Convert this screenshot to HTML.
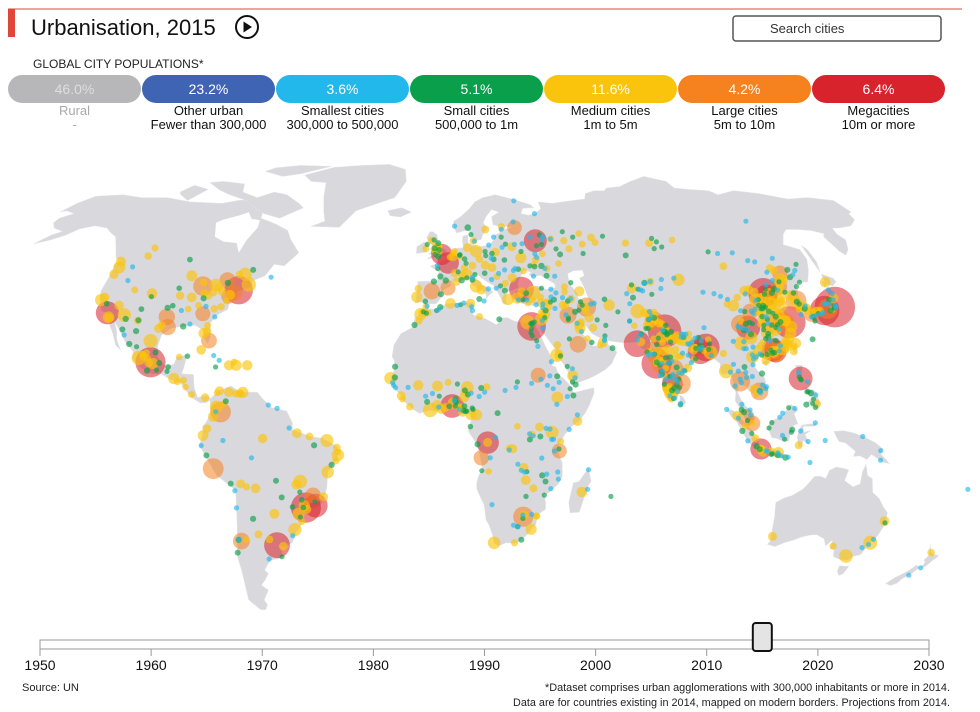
<!DOCTYPE html>
<html><head><meta charset="utf-8"><style>
html,body{margin:0;padding:0;background:#fff;}
body{width:980px;height:712px;overflow:hidden;font-family:"Liberation Sans Narrow","Liberation Sans",sans-serif;}
svg{display:block}
</style></head><body>
<svg id="chart" width="980" height="712" viewBox="0 0 980 712" xmlns="http://www.w3.org/2000/svg" font-family="Liberation Sans Narrow, Liberation Sans, sans-serif">
<line x1="8" y1="9" x2="962" y2="9" stroke="#e0453a" stroke-width="1"/>
<rect x="8" y="9" width="7" height="28" fill="#e0453a"/>
<text x="31" y="35" font-size="22" fill="#111">Urbanisation, 2015</text>
<g>
<circle cx="247" cy="27" r="11" fill="none" stroke="#111" stroke-width="2"/>
<path d="M243.5 21.5 L252 27 L243.5 32.5 Z" fill="#111"/>
</g>
<g>
<rect x="733" y="16" width="208" height="25" rx="3" fill="#fff" stroke="#555" stroke-width="1.5"/>
<text x="770" y="33" font-size="13" fill="#333">Search cities</text>
</g>
<text x="33" y="68" font-size="12" fill="#222">GLOBAL CITY POPULATIONS*</text>
<g id="legend"></g>
<g id="map"></g>
<g id="dots"></g>
<g id="slider"></g>
<text x="22" y="691" font-size="11" fill="#222">Source: UN</text>
<text x="950" y="691" font-size="11" fill="#222" text-anchor="end" textLength="405" lengthAdjust="spacingAndGlyphs">*Dataset comprises urban agglomerations with 300,000 inhabitants or more in 2014.</text>
<text x="950" y="706" font-size="11" fill="#222" text-anchor="end" textLength="437" lengthAdjust="spacingAndGlyphs">Data are for countries existing in 2014, mapped on modern borders. Projections from 2014.</text>
</svg>
<script>
const NS="http://www.w3.org/2000/svg";
// ---- legend data ----
const legendShares=["46.0%","23.2%","3.6%","5.1%","11.6%","4.2%","6.4%"];
const legendNames=["Rural","Other urban","Smallest cities","Small cities","Medium cities","Large cities","Megacities"];
const legendRanges=["-","Fewer than 300,000","300,000 to 500,000","500,000 to 1m","1m to 5m","5m to 10m","10m or more"];
const legendColors=["#b7b6b8","#4064b4","#22b8ec","#0aa04b","#fbc40c","#f5821f","#d8222c"];
// ---- slider data ----
const yearTicks=[1950,1960,1970,1980,1990,2000,2010,2020,2030];
const currentYear=2015;
// ---- city data: [lon, lat, population in millions] ----
const citiesNorthAmerica=[[-74,40.7,18.6],[-118.2,34,12.3],[-87.6,41.9,8.9],[-79.4,43.7,5.9],[-96.8,32.8,6.2],[-95.4,29.8,6.0],[-80.2,25.8,5.8],[-75.2,40,5.6],[-84.4,33.7,5.1],[-77,38.9,5.0],[-71,42.4,4.7],[-122.4,37.8,3.4],[-112,33.4,4.2],[-83,42.3,3.7],[-122.3,47.6,3.3],[-73.6,45.5,4.0],[-93.3,45,2.8],[-117.2,32.7,3.1],[-105,39.7,2.6],[-82.5,28,2.6],[-90.2,38.6,2.2],[-76.6,39.3,2.3],[-123.1,49.3,2.4],[-122.7,45.5,2.0],[-115.1,36.2,2.1],[-81.4,28.5,1.7],[-94.6,39.1,1.6],[-114,51,1.3],[-113.5,53.5,1.2],[-97,49.9,0.78],[-71.2,46.8,0.8],[-75.7,45.4,1.3],[-111.9,40.8,1.1],[-106.6,35.1,0.75],[-106.4,31.8,0.8],[-90,35.1,1.0],[-86.8,36.2,1.1],[-80.8,35.2,1.3],[-81.7,30.3,1.1],[-90.1,30,0.95],[-81.7,41.5,1.7],[-80,40.4,1.7],[-84.5,39.1,1.6],[-86.2,39.8,1.5],[-87.9,43,1.4],[-83,40,1.5],[-78.9,42.9,0.93],[-97.5,35.5,0.9],[-97.7,30.3,1.6],[-98.5,29.4,1.9],[-121.5,38.6,2.0],[-119.8,36.7,0.7],[-111,32.2,0.87],[-96,41.3,0.7],[-78.6,35.8,1.2],[-77.4,37.5,1.0],[-85.8,38.3,0.9],[-157.9,21.3,0.8],[-117.4,47.7,0.4],[-63.6,44.6,0.4],[-116.2,43.6,0.4],[-84,35.9,0.45],[-79.9,32.8,0.4],[-88,30.7,0.35],[-92.3,34.7,0.45],[-95.9,36.1,0.7],[-104.8,38.8,0.5]];
const citiesCentralAmerica=[[-99.1,19.4,21],[-103.3,20.7,4.8],[-100.3,25.7,4.5],[-98.2,19,2.9],[-117,32.5,1.9],[-106.5,31.7,1.4],[-101.7,21.1,1.7],[-99.7,19.3,1.8],[-89.6,21,1.0],[-99.9,16.9,0.9],[-106.1,28.6,0.9],[-107.4,24.8,0.9],[-111,29.1,0.85],[-96.1,19.2,0.8],[-90.5,14.6,2.9],[-89.2,13.7,1.1],[-87.2,14.1,1.1],[-86.3,12.1,1.0],[-84.1,9.9,1.2],[-79.5,9,1.6],[-82.4,23.1,2.1],[-69.9,18.5,2.9],[-72.3,18.5,2.4],[-66.1,18.5,2.5],[-76.8,18,0.6],[-70.7,19.5,1.0],[-86.8,21.2,0.7],[-102.3,21.9,1.0],[-101,22.2,1.1],[-100.4,20.6,1.2],[-96.7,17.1,0.6],[-97.9,22.3,0.8],[-109.9,27.5,0.4],[-104.7,24,0.6],[-93.1,16.7,0.6],[-92.9,18,0.75],[-75.8,20,0.45],[-77.9,21.4,0.35]];
const citiesSouthAmerica=[[-46.6,-23.5,21],[-43.2,-22.9,12.9],[-58.4,-34.6,15.2],[-77,-12,9.9],[-74.1,4.7,9.8],[-70.7,-33.4,6.5],[-43.9,-19.9,5.7],[-66.9,10.5,2.9],[-47.9,-15.8,4.2],[-51.2,-30,4.0],[-34.9,-8,3.7],[-38.5,-3.7,3.9],[-38.5,-13,3.6],[-49.3,-25.4,3.4],[-75.6,6.2,3.9],[-79.9,-2.2,2.7],[-76.5,3.4,2.6],[-47.1,-22.9,3.0],[-49.3,-16.7,2.3],[-48.5,-1.5,2.2],[-60,-3.1,2.0],[-78.5,-0.2,1.7],[-71.6,10.6,2.2],[-68,10.2,1.8],[-74.8,11,1.9],[-56.2,-34.9,1.7],[-57.6,-25.3,2.3],[-68.1,-16.5,1.8],[-63.2,-17.8,2.1],[-64.2,-31.4,1.5],[-60.7,-32.9,1.4],[-68.8,-32.9,1.0],[-40.3,-20.3,1.9],[-46.3,-24,1.8],[-35.2,-5.8,1.4],[-44.3,-2.5,1.4],[-35.7,-9.7,1.2],[-42.8,-5.1,0.9],[-34.9,-7.1,1.0],[-48.5,-27.6,1.1],[-51.2,-23.3,0.7],[-56.1,-15.6,0.8],[-54.6,-20.5,0.8],[-71.5,-16.4,0.85],[-79,-8.1,0.8],[-71.6,-33,0.9],[-73,-36.8,0.8],[-66.2,-17.4,1.2],[-69.3,10.1,1.2],[-67.6,10.2,1.1],[-65.2,-26.8,0.9],[-57.5,-38,0.6],[-73.1,7.1,1.2],[-75.5,10.4,1.0],[-47.8,-21.2,0.7],[-48.3,-18.9,0.6],[-63.9,-8.8,0.4],[-51.1,0,0.45],[-37.1,-10.9,0.9],[-43.4,-21.8,0.55],[-47.5,-23.5,0.7],[-48.8,-26.3,0.6],[-52.3,-31.8,0.35],[-58.2,6.8,0.3],[-55.2,5.8,0.3],[-62.3,-38.7,0.3],[-71.5,-32.9,0.4],[-70.4,-23.6,0.4],[-70.3,-18.5,0.35],[-80.6,-5.2,0.45],[-73.3,-3.7,0.45],[-75.7,4.8,0.4],[-72.5,7.9,0.8]];
const citiesEurope=[[-0.1,51.5,10.3],[2.35,48.9,10.8],[37.6,55.75,12.2],[29,41,14.2],[-3.7,40.4,6.2],[2.2,41.4,5.3],[9.2,45.5,3.1],[12.5,41.9,3.7],[13.4,52.5,3.6],[23.7,38,3.1],[30.3,59.9,5.0],[30.5,50.5,2.9],[14.3,40.9,2.2],[-9.1,38.7,2.9],[-2.2,53.5,2.6],[-1.9,52.5,2.5],[10,53.6,1.8],[16.4,48.2,1.8],[26.1,44.4,1.9],[19,47.5,1.7],[21,52.2,1.7],[27.6,53.9,1.9],[4.35,50.85,2.0],[18,59.3,1.5],[11.6,48.1,1.4],[14.4,50.1,1.3],[12.6,55.7,1.3],[4.9,52.4,1.1],[4.5,51.9,1.0],[4.8,45.8,1.6],[5.4,43.3,1.6],[3.1,50.6,1.0],[1.4,43.6,0.95],[7.3,43.7,0.95],[-0.6,44.8,0.9],[-8.6,41.2,1.3],[-0.4,39.5,0.8],[-6,37.4,0.7],[7,50.9,1.0],[8.7,50.1,0.7],[9.2,48.8,0.6],[6.8,51.2,0.6],[7,51.45,0.6],[7.7,45.1,1.8],[13.4,38.1,0.85],[-4.3,55.9,1.2],[-1.5,53.8,1.9],[-6.3,53.3,1.2],[10.8,59.9,0.99],[24.9,60.2,1.2],[24.1,56.9,0.6],[25.3,54.7,0.5],[23.3,42.7,1.2],[20.5,44.8,1.2],[16,45.8,0.7],[22.9,40.6,0.8],[27.1,38.4,3.0],[32.9,39.9,4.7],[29,40.2,1.9],[30.7,36.9,1.0],[35.3,37,1.8],[32.5,37.9,1.1],[37.4,37.1,1.4],[36.2,50,1.4],[30.7,46.5,1.0],[35,48.5,1.0],[37.8,48,0.95],[44,56.3,1.2],[49.1,55.8,1.2],[50.1,53.2,1.2],[44.5,48.7,1.0],[39.7,47.2,1.1],[39.2,51.7,1.0],[56.2,58,1.0],[56,54.7,1.1],[60.6,56.8,1.4],[61.4,55.2,1.1],[73.4,55,1.2],[82.9,55,1.5],[92.9,56,1.0],[104.3,52.3,0.6],[131.9,43.1,0.6],[135,48.5,0.6],[39,45,0.8],[46,51.5,0.8],[44.8,41.7,1.1],[49.9,40.4,2.4],[44.5,40.2,1.0],[76.9,43.2,1.5],[69.3,41.3,2.3],[74.6,42.9,0.9],[71.4,51.2,0.8],[58.4,38,0.7],[68.8,38.5,0.8],[83.8,53.3,0.6],[65.5,57.2,0.6],[19.9,50,0.76],[19.5,51.8,0.7],[18.6,54.4,0.45],[19,50.3,0.4],[17,51.1,0.6],[16.9,52.4,0.55],[-3,43.3,0.9],[-1.6,47.2,0.6],[-1.7,48.1,0.4],[8.5,47.4,1.2],[6.1,46.2,0.6],[9.2,44.4,0.6],[11.3,43.8,0.75],[11.3,44.5,0.4],[12.3,45.4,0.6],[15.1,37.5,0.3],[16.9,41.1,0.35],[-2.9,53.4,0.9],[-1.5,55,0.8],[-3.2,56,0.5],[-1.1,52.9,0.75],[-2.6,51.5,0.6],[-1.4,50.9,0.9],[-5.9,54.6,0.6],[5.3,60.4,0.4],[11.9,57.7,0.6],[13,55.6,0.3],[21,56.9,0.3],[24.7,59.4,0.4],[28.8,47,0.7],[24,49.8,0.7],[33.4,48,0.6],[35.1,47.8,0.75],[34.1,44.9,0.35],[26.9,46.6,0.3],[27.6,47.2,0.3],[23.6,46.8,0.3],[21.2,45.7,0.3],[21.4,42,0.5],[19.8,41.3,0.4],[18.4,43.9,0.3],[28.9,54.6,0.35],[31,52.4,0.5],[23.8,53.7,0.35],[35.9,56.9,0.4],[40.4,56.1,0.35],[39.9,57.6,0.6],[41,57,0.4],[43.9,56.3,0.3],[45,53.2,0.5],[49.7,58.6,0.5],[53.2,56.9,0.6],[55.1,51.8,0.55],[47.5,42.98,0.6],[42,44.9,0.4],[38.9,47.2,0.3],[36.6,50.6,0.35],[36.2,51.7,0.4],[37.6,54.2,0.5],[39.7,54.6,0.5],[32,54.8,0.35],[30.3,61.8,0.3],[40.5,64.5,0.35],[33,68.9,0.3],[87.1,53.8,0.5],[86.1,55.4,0.55],[85,56.5,0.55],[76.9,43.3,0.3],[69.6,42.3,0.6],[66.9,39.7,0.4],[72.3,40.8,0.4],[73,40.5,0.3],[74.6,42.8,0.3],[71.5,41,0.5],[107.6,51.8,0.4],[113.5,52,0.35],[127.5,50.3,0.35],[129.7,62,0.3]];
const citiesMiddleEast=[[51.4,35.7,8.4],[44.4,33.3,6.6],[46.7,24.7,6.4],[39.2,21.5,4.1],[55.3,25.3,2.4],[48,29.4,2.8],[35.9,32,1.2],[36.3,33.5,2.6],[37.2,36.2,3.5],[35.5,33.9,2.2],[34.8,32.1,3.6],[59.6,36.3,3.0],[51.7,32.6,2.0],[46.3,38.1,1.6],[52.5,29.6,1.6],[48.7,31.3,1.2],[51,35.8,1.9],[50.9,34.6,1.2],[39.8,21.4,1.8],[39.6,24.5,1.3],[50.1,26.4,1.0],[44.2,15.4,2.9],[45,12.8,0.9],[58.4,23.6,0.8],[51.5,25.3,0.7],[54.4,24.5,1.1],[47.8,30.5,2.3],[43.1,36.3,1.6],[44,36.2,1.2],[69.2,34.5,4.6],[62.2,34.3,0.5],[65.7,31.6,0.5],[67.1,36.7,0.4],[56.3,27.2,0.5],[47.1,34.3,0.9],[48.5,34.8,0.55],[57.1,30.3,0.6],[54.4,31.9,0.6],[47.2,30.9,0.3],[44.4,32.5,0.5],[44.3,32,0.6],[43.7,33.4,0.35],[40.1,35.3,0.3],[36.7,34.7,0.8],[35.8,35.5,0.4],[36.1,32.6,0.5],[35.2,31.8,0.35],[35,29.5,0.3],[43.9,26.3,0.5],[40.4,21.3,0.6],[42.5,18.2,0.5],[44.2,17.5,0.3],[44,13.6,0.6],[44.9,14.8,0.45],[48.4,28.5,0.3],[56.1,26.2,0.3],[55.9,25.8,0.3],[53.1,36.6,0.35],[54.4,36.8,0.3],[49.6,37.3,0.6],[45.1,37.5,0.7],[46.3,38.2,0.3],[50,36.3,0.5],[40.2,37.9,0.9],[38.8,37.2,0.5],[39.3,38.7,0.4],[43.4,38.5,0.4],[41.3,39.9,0.4],[36,36.6,0.4],[39.7,41,0.35],[36.3,41.3,0.6],[35.5,38.7,1.1],[27.4,37.8,0.35],[30.5,37.8,0.35],[29.1,37.8,0.5],[30.5,39.8,0.75],[33.6,36.4,0.3]];
const citiesAfrica=[[31.2,30,18.8],[3.4,6.5,13.1],[15.3,-4.3,11.6],[13.2,-8.8,5.5],[32.5,15.6,5.1],[39.3,-6.8,5.1],[28,-26.2,9.4],[-4,5.3,4.8],[29.9,31.2,4.8],[36.8,-1.3,3.9],[38.7,9,3.2],[18.4,-33.9,3.7],[31,-29.9,2.9],[-7.6,33.6,3.5],[3,36.8,2.6],[-0.2,5.6,2.3],[-1.6,6.7,2.6],[-17.4,14.7,3.5],[3.9,7.4,3.2],[8.5,12,3.6],[7.5,9.1,2.4],[9.7,4,2.9],[11.5,3.9,3.0],[32.6,0.3,1.9],[47.5,-18.9,2.6],[-8,12.6,2.5],[-1.5,12.4,2.7],[-13.7,9.5,1.9],[28.3,-15.4,2.2],[31,-17.8,1.5],[32.6,-26,1.2],[45.3,2,2.1],[10.2,36.8,2.0],[13.2,32.9,1.1],[-6.8,34,1.9],[-5,34,1.2],[-8,31.6,1.1],[-5.8,35.8,1.0],[-0.6,35.7,0.9],[28.2,-25.7,2.0],[25.6,-33.9,1.2],[27.5,-11.7,2.0],[23.6,-6.1,2.0],[22.4,-5.9,1.0],[25.2,0.5,1.0],[15.25,-4.25,1.9],[11.9,-4.8,0.9],[9.5,0.4,0.7],[1.2,6.1,1.7],[2.4,6.4,0.7],[2.1,13.5,1.1],[15,12.1,1.3],[-13.2,8.5,1.0],[-10.8,6.3,1.3],[7,4.8,2.3],[5.6,6.3,1.5],[7.4,10.5,1.1],[6.8,6.1,1.1],[7.4,5.1,0.8],[13.2,11.8,0.8],[33.8,-14,0.9],[35,-15.8,0.8],[39.7,-4,1.1],[30.1,-1.9,1.3],[29.4,-3.4,0.8],[32.9,-2.5,0.8],[37.2,19.6,0.4],[38.9,15.3,0.8],[43.1,11.6,0.5],[44.1,9.6,0.8],[-15.9,18.1,0.9],[28.6,-20.2,0.65],[17.1,-22.6,0.35],[15.7,-12.8,1.0],[13.4,-12.6,0.6],[26.2,-29.1,0.5],[33.5,-8.9,0.4],[7.7,11.1,0.8],[4.5,8.5,0.9],[5.2,13,0.5],[-5,7.7,0.8],[-15.9,14.9,0.9],[20.1,32.1,0.8],[31,30.8,0.5],[32.3,31.3,0.6],[32.9,24.1,0.3],[32.6,25.7,0.5],[31.2,27.2,0.5],[30.8,28.1,0.5],[31.1,29.3,0.6],[31.5,30.6,0.5],[31.4,31,0.6],[7.8,36.9,0.4],[6.6,36.4,0.5],[5.4,36.2,0.3],[-1.3,34.9,0.3],[10.6,35.8,0.3],[10.8,34.7,0.3],[-9.6,30.4,0.9],[-6.6,34.3,0.6],[-5.5,33.9,0.6],[-1.9,34.7,0.5],[-5.3,36,0.3],[-16.3,12.6,0.4],[-16.6,13.4,0.4],[-15.6,11.9,0.4],[-11.4,12,0.3],[-5.5,9.4,0.3],[-0.9,9.4,0.6],[-1.1,6.2,0.3],[-3.2,10.2,0.3],[4.5,6.5,0.5],[4.5,7.8,0.5],[4.2,8.1,0.4],[5,7.6,0.5],[5.8,5.5,0.4],[7.9,4.9,0.6],[8.3,5,0.5],[7.5,6.4,0.8],[8.7,9.9,0.8],[9.8,10.3,0.4],[12.5,9.3,0.4],[10.4,5.5,0.5],[10.1,5.9,0.6],[14.3,10.6,0.4],[18.6,4.4,0.8],[25.5,-10.7,0.4],[22.5,-6.5,0.3],[26.7,-12.5,0.3],[27.8,-13,0.4],[28.6,-12.9,0.5],[29.3,-1.7,0.4],[30.5,-2.3,0.3],[37.3,-3.3,0.3],[36.7,-3.4,0.4],[34.8,-0.1,0.4],[36.1,-0.3,0.3],[39.2,-6.2,0.6],[37.7,-6.8,0.3],[39,-13,0.3],[39.3,-15.1,0.4],[35.3,-13.6,0.3],[36.9,-17.9,0.4],[34.8,-19.8,0.5],[32.5,-25.9,1.0],[30.9,-25.5,0.3],[27.8,-25.7,0.3],[27.9,-26.7,0.6],[24.8,-28.7,0.3],[27.9,-33,0.8],[26.5,-29.1,0.35],[17.9,-2.8,0.3],[16.2,-8.8,0.3],[21.2,11.1,0.3],[25.4,13.6,0.5],[24.9,12,0.4],[30.2,13.2,0.4],[33.4,14.4,0.3],[36.4,15.4,0.4],[35.5,12.6,0.3],[39.5,13.5,0.4],[38.5,7,0.3],[42.1,9.3,0.4],[37.4,11.6,0.3],[45.3,3.9,0.3],[42.5,-0.4,0.3],[49.3,-12.3,0.3],[49.4,-18.1,0.3],[57.5,-20.2,0.5]];
const citiesSouthAsia=[[77.2,28.6,25.7],[72.9,19,21],[90.4,23.8,17.6],[67,24.9,16.6],[88.4,22.6,14.9],[77.6,13,10.1],[80.3,13.1,9.9],[74.3,31.5,8.7],[78.5,17.4,8.9],[72.6,23,7.3],[73.9,18.5,5.7],[72.8,21.2,5.6],[75.8,26.9,3.1],[81,26.8,3.2],[80.3,26.4,3.0],[79.1,21.1,2.6],[75.9,22.7,2.2],[85.1,25.6,2.2],[77.4,23.2,2.0],[75.9,30.9,1.7],[78,27.2,1.8],[73.2,22.3,1.9],[73.8,20,1.7],[76.3,10,2.3],[77,11,2.3],[78.1,9.9,1.5],[83.3,17.7,1.9],[83,25.3,1.5],[74.8,34.1,1.4],[74.9,31.6,1.3],[70.8,22.3,1.6],[73.1,31.4,3.3],[73,33.6,2.2],[71.5,30.2,1.9],[68.4,25.4,1.8],[71.5,34,1.9],[67,30.2,1.0],[91.8,22.3,4.5],[89.6,22.8,1.0],[85.3,27.7,1.2],[79.9,6.9,0.7],[77,8.5,1.0],[75.8,11.3,2.1],[76,11,1.7],[76.2,10.5,1.9],[75.4,11.9,1.6],[91.7,26.1,1.0],[81.6,21.3,1.2],[79.9,23.2,1.3],[85.3,23.3,1.2],[86.4,23.8,1.2],[87,23.7,1.3],[80.6,16.5,1.5],[76.6,12.3,1.0],[75.1,15.4,1.0],[81.8,25.4,1.2],[77.7,29,1.5],[73,26.3,1.1],[75.3,19.9,1.2],[75.9,17.7,1.0],[85.8,20.3,1.0],[76.8,30.7,1.1],[78,30.3,0.7],[74.5,32.5,0.8],[74.2,32.2,2.0],[68.9,27.7,0.5],[77.3,11.1,0.9],[78.1,11.7,0.9],[78.7,10.8,1.0],[78.2,26.2,1.1],[89.2,25.7,0.4],[91.9,24.9,0.5],[88.6,24.4,0.9],[79.4,28.4,0.9],[78.1,27.9,0.8],[77.7,27.5,0.6],[77.3,28.4,0.9],[77.0,28.5,0.9],[77.4,28.7,1.6],[76.6,28.9,0.4],[74.6,26.5,0.5],[73.7,24.6,0.5],[75.8,25.2,1.0],[78.6,25.4,0.6],[81,21.2,1.0],[82.2,22.1,0.4],[84,21.5,0.4],[86.2,22.8,1.3],[86.4,20.5,0.6],[84.8,19.3,0.4],[83.4,26.8,0.7],[82.6,26.8,0.4],[84.4,24.8,0.4],[85,24.8,0.4],[86,25.4,0.3],[87.3,26.5,0.3],[88.4,26.7,0.7],[88.3,22.9,0.5],[88.1,23.2,0.3],[86.9,23.5,0.5],[79.4,13.6,0.4],[79.1,12.9,0.5],[79.8,11.9,0.6],[79.1,10.8,0.3],[77.7,8.7,0.5],[78.1,8.8,0.4],[76.5,9.5,0.4],[76.6,8.9,1.1],[74.9,12.9,0.6],[75.6,14.5,0.4],[74.5,15.9,0.5],[73.8,15.5,0.3],[74.2,16.7,0.6],[74.6,16.9,0.4],[73.1,19.2,1.3],[73,19.4,0.8],[72.8,19.5,1.0],[73.9,18.6,0.6],[74.7,19.1,0.3],[76.8,19.1,0.4],[77.3,19.2,0.6],[76.2,20.7,0.6],[77.8,20.9,0.7],[78.2,19.7,0.3],[79.6,17.9,0.8],[80.1,16.3,0.4],[81.8,17,0.4],[81.2,16.2,0.4],[82.2,16.9,0.5],[79.9,14.4,0.5],[78.8,14.5,0.4],[77.6,14.7,0.4],[78,15.8,0.4],[76.9,15.2,0.5],[72.6,21.8,0.5],[70.1,22.5,0.5],[71.1,21.8,0.3],[72.2,21.8,0.4],[70.4,21.5,0.3],[73.8,33.1,0.3],[72.5,32,0.7],[72.7,32.1,0.3],[70.9,29.4,0.5],[71.7,29.4,0.6],[67.3,26,0.3],[68.6,27.5,0.4],[73.4,34.4,0.3],[65.7,31.6,0.3],[80,7.3,0.3],[82.9,27.7,0.3],[83.5,27.7,0.3],[84.4,27.7,0.35],[91.9,21.4,0.4],[91.3,23.2,0.5],[89.1,23.8,0.3]];
const citiesEastAsia=[[139.7,35.7,38],[121.5,31.2,23.7],[116.4,39.9,20.4],[135.5,34.7,20.2],[106.5,29.6,13.3],[113.3,23.1,12.4],[117.2,39.1,11.2],[114.1,22.5,10.7],[127,37.6,9.8],[121,14.6,12.9],[106.8,-6.2,10.3],[100.5,13.75,9.3],[114.3,30.6,7.9],[104.1,30.7,7.8],[113.75,23,7.4],[114.2,22.3,7.3],[106.7,10.8,7.3],[113.1,23,7.0],[118.8,32.1,7.4],[120.2,30.3,6.4],[123.4,41.8,6.3],[108.9,34.3,5.9],[120.6,31.3,5.5],[126.6,45.8,5.5],[101.7,3.1,6.8],[103.8,1.35,5.6],[96.2,16.8,4.8],[105.8,21,3.6],[129,35.1,3.2],[136.9,35.2,9.4],[130.4,33.6,5.5],[141.4,43.1,2.6],[140.9,38.3,2.3],[132.5,34.4,2.2],[130.9,33.9,2.0],[121.5,25,2.7],[120.3,22.6,1.5],[120.7,24.1,1.2],[120.4,36.1,4.5],[121.6,38.9,3.9],[117,36.7,4.4],[113.6,34.7,4.9],[113,28.2,4.6],[102.7,25,4.2],[112.5,37.9,3.7],[125.3,43.9,3.9],[114.5,38,3.7],[117.3,31.8,3.6],[119.3,26.1,3.3],[118.1,24.5,4.3],[108.3,22.8,3.1],[87.6,43.8,3.5],[103.8,36.1,3.1],[106.7,26.6,3.6],[115.9,28.7,2.6],[121.5,29.9,3.4],[120.3,31.6,2.9],[120,31.8,2.5],[118.2,39.6,3.2],[118,36.8,3.2],[117.2,34.3,2.6],[120.7,28,3.0],[116.7,23.4,4.0],[113.4,22.5,3.2],[118.6,24.8,2.0],[110,40.6,2.2],[111.7,40.8,2.0],[113.3,40.1,1.7],[112.5,34.6,2.3],[114.5,36.6,2.0],[119,33.6,2.5],[121.4,37.5,2.3],[126.5,43.8,1.9],[125,46.6,1.6],[124,47.3,1.5],[123,41.1,1.6],[123.9,41.9,1.5],[101.8,36.6,1.2],[106.3,38.5,1.3],[91.1,29.6,0.3],[110.3,20,2.0],[110.4,21.2,1.0],[109.4,24.3,1.5],[110.3,25.3,1.0],[111.3,30.7,1.3],[112.1,32,1.8],[104.7,31.5,1.1],[106.1,30.8,0.9],[106.9,27.7,0.9],[125.8,39,2.9],[126.7,37.5,2.7],[128.6,35.9,2.2],[127.4,36.4,1.6],[126.9,35.2,1.5],[106.9,47.9,1.4],[104.9,11.6,1.7],[102.6,18,0.8],[96.1,22,1.2],[99,18.8,0.3],[108.2,16.1,0.9],[106.7,20.9,1.1],[105.8,10,1.2],[123.9,10.3,0.95],[125.6,7.1,1.6],[122.1,6.9,0.9],[112.75,-7.25,2.9],[107.6,-6.9,2.5],[98.7,3.6,2.2],[104.8,-3,1.5],[110.4,-7,1.6],[119.4,-5.1,1.5],[110.4,-7.8,0.6],[112.6,-8,0.85],[115.2,-8.7,0.95],[101.4,0.5,1.1],[100.4,-0.9,0.9],[116.8,-1.2,0.6],[109.3,0,0.6],[117.1,-0.5,0.8],[124.8,1.5,0.4],[147.2,-9.5,0.35],[103.8,1.5,1.0],[110.3,1.6,0.6],[100.3,5.4,0.8],[133.9,34.7,1.3],[138.4,35,1.2],[130.7,32.8,0.9],[137.7,34.7,0.8],[139.4,35.4,0.6],[140.1,35.6,0.4],[139.6,35.9,0.5],[140.1,36.1,0.4],[138.2,36.6,0.4],[136.6,36.6,0.4],[137.2,36.7,0.4],[139,37.9,0.8],[140.7,40.8,0.3],[141.3,39.7,0.3],[140.4,37.8,0.3],[133.5,33.6,0.3],[132.8,33.8,0.5],[134.6,34.1,0.3],[131.6,33.2,0.4],[129.9,32.8,0.4],[130.6,31.6,0.6],[127.7,26.2,0.8],[129.3,36,0.4],[129.3,35.5,1.0],[128.7,35.2,0.9],[127.1,37.3,0.9],[127.5,36.6,0.7],[126.6,33.5,0.4],[127.4,39.9,0.7],[129.8,41.8,0.6],[124.4,40.1,0.6],[122.2,40.7,0.4],[121.1,41.1,0.9],[119.6,39.9,0.9],[115.5,38.9,1.0],[116.7,39.5,0.5],[115,35.7,0.5],[114.4,36.1,0.8],[113.2,35.2,0.6],[113.9,35.3,0.8],[112.6,32.9,0.7],[114,32.9,0.3],[114.1,32.1,0.6],[115.6,34.4,0.8],[116.8,33.9,0.6],[117.4,32.9,0.8],[118.4,31.3,0.8],[117.0,30.5,0.6],[116.1,29.7,0.5],[117.2,29.3,0.3],[114.9,30.4,0.7],[113.9,30.9,0.3],[112.2,30.3,0.6],[111.7,29.0,0.5],[112.9,27.8,0.8],[112.6,26.9,0.9],[111.6,26.4,0.5],[113.0,25.8,0.4],[114.9,25.8,0.7],[116.1,24.3,0.4],[115.4,22.8,0.3],[114.4,23.1,1.4],[113.6,22.3,0.7],[112.9,22.1,0.7],[112.5,23.0,0.6],[111.0,21.7,0.6],[109.1,21.5,0.5],[108.6,21.9,0.3],[106.6,23.9,0.3],[104.6,28.8,0.6],[105.4,28.9,0.6],[104.8,29.3,0.4],[103.7,29.6,0.4],[103.0,30.0,0.3],[106.1,28.8,0.3],[107.5,31.2,0.5],[108.4,30.8,0.6],[107.1,34.4,0.6],[109.5,34.5,0.3],[105.7,34.6,0.4],[109.9,33.9,0.3],[111.0,35.0,0.3],[112.7,37.7,0.3],[113.6,37.9,0.6],[112.9,36.2,0.5],[109.8,39.6,0.4],[117.9,41.0,0.5],[119.0,42.3,0.4],[122.2,43.6,0.4],[124.4,43.2,0.6],[129.5,44.6,0.9],[130.3,46.8,0.8],[131.1,45.3,0.4],[132.9,46.6,0.3],[122.0,46.1,0.3],[119.8,49.2,0.3],[117.4,49.6,0.3],[81.3,43.9,0.4],[86.1,44.3,0.4],[75.9,39.5,0.5],[79.9,41.2,0.3],[94.7,40.1,0.3],[102.6,38.0,0.3],[100.5,38.9,0.4],[98.5,39.7,0.3],[100.2,25.6,0.4],[103.8,25.5,0.4],[103.4,23.4,0.4],[104.2,23.4,0.3],[97.6,16.5,0.4],[98.6,12.4,0.3],[100.9,13.4,0.4],[100.6,14.4,0.3],[102.8,14.9,0.3],[102.8,16.4,0.4],[104.8,15.2,0.3],[100.3,16.8,0.3],[100.5,7.0,0.4],[103.1,5.3,0.4],[101.1,4.6,0.8],[102.2,2.2,0.5],[103.3,3.8,0.4],[116.1,5.98,0.6],[118.1,5.8,0.3],[114.0,4.4,0.3],[113.0,3.2,0.3],[106.6,10.9,0.4],[107.1,10.4,0.4],[106.8,10.95,0.8],[108.9,11.6,0.3],[109.2,12.2,0.4],[108.0,12.7,0.3],[105.6,18.7,0.4],[106.1,20.4,0.3],[107.1,21.0,0.3],[105.9,21.6,0.3],[120.6,15.1,0.5],[120.9,14.4,0.6],[121.2,14.2,0.5],[120.6,16.4,0.4],[123.2,13.6,0.3],[122.6,10.7,0.5],[123.0,10.7,0.5],[124.6,8.5,0.6],[125.5,9.8,0.3],[125.1,6.1,0.7],[124.2,7.2,0.5],[106.4,-6.3,0.9],[106.6,-6.2,1.8],[106.8,-6.6,1.0],[107.0,-6.2,1.6],[108.6,-6.7,0.3],[109.1,-6.9,0.4],[110.8,-7.6,0.5],[112.6,-7.3,0.4],[113.7,-8.2,0.4],[116.1,-8.6,0.4],[123.6,-10.2,0.3],[105.3,-5.4,0.9],[102.3,-3.8,0.3],[103.6,-1.6,0.5],[99.1,2.9,0.3],[95.3,5.5,0.3],[114.6,-3.3,0.5],[113.9,-2.2,0.3],[122.5,-4.0,0.3],[119.9,-0.9,0.3],[128.2,-3.7,0.3],[140.7,-2.5,0.3],[147.0,-6.7,0.3]];
const citiesOceania=[[151.2,-33.9,4.5],[145,-37.8,4.2],[153,-27.5,2.2],[115.9,-32,1.9],[138.6,-34.9,1.2],[153.4,-28,0.6],[149.1,-35.3,0.4],[174.8,-36.8,1.3],[174.8,-41.3,0.4],[172.6,-43.5,0.4],[151.8,-32.9,0.4],[150.9,-34.4,0.3],[178.4,-18.1,0.3]];

// ---- Robinson projection ----
const robX=[1,.9986,.9954,.99,.9822,.973,.96,.9427,.9216,.8962,.8679,.835,.7986,.7597,.7186,.6732,.6213,.5722,.5322];
const robY=[0,.062,.124,.186,.248,.31,.372,.434,.4958,.5571,.6176,.6769,.7346,.7903,.8435,.8936,.9394,.9761,1];
const R=202, CX=442, CY=428;
function interp(t,lat){const a=Math.min(Math.abs(lat),89.99)/5;const i=Math.floor(a),f=a-i;return t[i]+(t[i+1]-t[i])*f;}
function px(lon,lat){return CX+R*0.8487*interp(robX,lat)*lon*Math.PI/180;}
function py(lon,lat){return CY-Math.sign(lat)*1.3523*R*interp(robY,lat);}

function mk(tag,attrs,parent){const e=document.createElementNS(NS,tag);for(const k in attrs)e.setAttribute(k,attrs[k]);parent.appendChild(e);return e;}

// ---- legend ----
const lg=document.getElementById('legend');
legendShares.forEach((s,i)=>{
  const x=8+i*134;
  const g=mk('g',{},lg);
  
  
  const r=mk('rect',{x:x,y:75,width:133,height:28,rx:14,fill:legendColors[i]},g);
  
  
  const t=mk('text',{x:x+66.5,y:94,'text-anchor':'middle','font-size':14,fill:i===0?'#dedede':'#fff'},g);
  t.textContent=s;
  
  
  const n=mk('text',{x:x+66.5,y:115,'text-anchor':'middle','font-size':13,fill:i===0?'#aaa':'#111'},g);
  n.textContent=legendNames[i];
  
  
  const rg=mk('text',{x:x+66.5,y:129,'text-anchor':'middle','font-size':13,fill:i===0?'#aaa':'#111'},g);
  rg.textContent=legendRanges[i];
  
  
});

// ---- land (rough coastlines, lon/lat) ----
const land=[
 [[-168,65],[-166,68],[-162,70.5],[-150,71],[-140,70],[-128,70],[-115,68.5],[-100,68],[-94,69],[-85,69.5],[-80,67],[-78,63],[-70,61],[-64,59],[-61,56],[-56,52],[-60,48],[-64,48.5],[-66,45],[-70,43.5],[-70,41.7],[-74,40.5],[-76,38],[-76,35],[-79,33.5],[-81,31],[-80,27],[-80.5,25],[-82,26.5],[-83,29],[-86,30.3],[-89,30.2],[-94,29.5],[-97,27.5],[-97.5,24],[-97,21],[-94,18.3],[-91,18.8],[-90.4,21],[-87,21.5],[-87.5,18],[-88,16],[-84,15.8],[-83.4,12],[-82,9],[-79,9.5],[-77.4,8.6],[-79,7.5],[-81,7.4],[-84,9],[-86,11],[-88,13.2],[-92,14.5],[-95,16],[-98,16],[-102,17.7],[-105.5,20.5],[-105.5,22.5],[-109,25.5],[-112.5,29.5],[-114.7,31.5],[-113,29],[-112,26],[-110,23],[-112,24.5],[-114,28],[-115.8,30.3],[-117,32.6],[-118.5,34],[-120.6,34.6],[-122,36.8],[-123,38],[-124,40.5],[-124,46],[-124.7,48.4],[-123,49],[-126,50.5],[-130,54.5],[-133,57],[-137,58.5],[-140,59.8],[-146,60.5],[-151,59.5],[-154,57.5],[-158,56],[-163,54.8],[-160,57.5],[-157,58.7],[-162,59.8],[-165,61.5],[-165,63],[-161,64.5],[-166,65.5]],
 [[-123,71],[-117,69],[-113,73],[-122,74.5],[-125,72]],
 [[-110,76],[-98,75],[-95,72],[-86,70],[-80,72],[-73,71],[-65,68],[-62,66.5],[-70,63],[-78,64.5],[-85,67],[-90,69],[-100,71],[-108,73],[-116,75.5]],
 [[-95,80],[-83,78],[-75,79],[-62,82.5],[-80,83],[-92,81.8]],
 [[-55,60.3],[-43,60],[-38,65.5],[-22,70],[-18,76],[-20,81],[-30,83.5],[-45,83],[-60,82],[-72,78.5],[-66,76],[-58,75.5],[-55,70],[-52,65],[-50,62]],
 [[-24,65.5],[-18,66.5],[-13.5,65],[-18,63.4],[-22.5,63.8]],
 [[-78,8.5],[-75,11],[-71,12.4],[-68,10.7],[-62,10.5],[-60,8.5],[-57,6],[-52,5],[-50,1.5],[-50,-0.5],[-44,-2.5],[-40,-3],[-35,-5.5],[-35,-9],[-38.5,-13],[-39,-17.5],[-40.5,-21.5],[-42,-23],[-45,-23.8],[-48.5,-26],[-48.7,-28.5],[-51,-31],[-53,-34],[-56,-35],[-58,-34.5],[-57,-36.5],[-58,-38.5],[-62,-39],[-65,-42],[-64,-43],[-66,-45],[-68,-46.5],[-66,-48],[-69,-51],[-68.5,-52.5],[-70,-54],[-72,-54],[-75,-51],[-74,-46],[-73.5,-42],[-73.5,-38],[-71.5,-31],[-70.5,-25],[-70,-18.5],[-71.5,-17.2],[-76,-14],[-79.5,-8],[-81.2,-5],[-80,-2],[-80,0.5],[-79,1.5],[-77.5,4],[-77.5,7]],
 [[-9.5,36.8],[-8.8,42],[-9,43.3],[-2,43.4],[-1.3,44.5],[-1.2,46.2],[-4.5,47.9],[-1.6,48.8],[1.7,50],[3,51.2],[5,53.3],[8.5,53.6],[8.2,55.6],[8.5,57.2],[10.5,57.6],[10.5,55],[12.5,54.3],[14.3,53.8],[19,54.4],[21,56.1],[21.5,57.5],[24,58.3],[23.5,59.3],[28,59.5],[29,60.2],[25,60.3],[21.5,60.8],[21.5,63.5],[25,65],[22,65.9],[19,63.5],[17.5,61.5],[18.9,59.7],[16.5,57.5],[16,56.2],[12.8,55.5],[12.6,56.6],[11.2,58.9],[9.4,58.9],[6,58.2],[5,60],[5,62],[8,63.5],[12,66],[15,68.5],[19,70],[25,71],[30,70],[33,69.4],[40,67.5],[41,66.5],[36,66.3],[34.5,64.5],[37.5,64],[41,64.5],[44,66.2],[44,68.5],[50,68],[55,68.5],[60,69],[66,69.5],[68,71.5],[73,72.5],[75,72.5],[78,72.5],[80,73.5],[87,74],[95,76],[100,77],[105,78],[113,76],[113,73.5],[119,73],[128,72.5],[130,71],[140,72.5],[150,71.5],[160,69.5],[170,70],[180,69],[180,65],[178,64.5],[177,62.5],[172,60.5],[166,59.8],[163,59.8],[162,57.8],[163,56],[160,53],[157,51.3],[156,52.5],[155.5,57],[157,58],[153,59],[148,59.3],[143,59.3],[140,57.8],[136,54.5],[141,53],[140.5,50],[138,46.5],[135,43.2],[132,43],[130,42.3],[129.5,40.8],[128.4,38.8],[129.4,36],[129,35],[126.4,34.5],[126.2,37.5],[125,38],[125.3,39.5],[124,39.8],[121.5,39],[121.5,40.8],[119,39.2],[118.2,38.8],[117.5,38.5],[118.8,37.5],[120.5,37.7],[122.5,37.2],[120.8,36],[119.2,34.8],[120.5,33],[121.9,31.7],[121.9,30.8],[122,29.7],[121.4,28],[119.6,25.8],[117.7,24],[114,22.3],[111,21.5],[110,20.3],[108.5,21.6],[106.6,20.2],[105.7,18.7],[107,16.7],[108.8,15.2],[109.3,12],[107.5,10.5],[105,8.7],[104.8,10.2],[103,11],[102.5,12.2],[100.9,12.7],[100,13.4],[99.3,10.6],[100.3,8.3],[101.3,6.8],[103.1,5.4],[103.5,3.9],[104.2,1.4],[103.4,1.3],[101.3,2.8],[100.4,4.8],[98.3,8],[98.7,10.5],[98.2,13.2],[97.6,16.5],[95.2,15.8],[94.3,16.4],[94.5,19],[92.3,20.7],[91.7,22.5],[90.5,22],[88.9,21.7],[86.9,21.4],[86.8,20],[85,19.3],[82.3,16.6],[81,15.4],[80.2,13.7],[79.8,10.3],[78.2,8.9],[77.5,8],[76.5,9],[75.5,11.5],[74.3,14.5],[73.4,16],[72.8,19],[72.6,21.2],[70.5,20.8],[69,22.4],[70.2,22.9],[68.4,23.6],[66.6,25.4],[64.5,25.2],[61.6,25.2],[58.5,25.6],[57.3,25.8],[56.5,27.1],[54.7,26.5],[52,27.8],[50.1,30.1],[48.6,30],[47.9,29.9],[48.8,27.6],[50.1,26.3],[50.8,24.8],[51.6,25.9],[51.6,24.2],[54.1,24.2],[56.1,26.2],[56.4,24.9],[58.8,23.6],[59.8,22.4],[58.5,20.4],[57.7,19],[55.3,17.2],[52.2,15.7],[49.6,14.6],[45.6,13.3],[43.5,12.7],[42.8,15.3],[42.7,16.5],[41.2,19],[39.2,21.3],[38.5,23.7],[37,25.5],[35.2,28],[34.6,28.1],[34.2,31.2],[34.6,31.6],[35.1,33],[35.9,35.3],[36,36.8],[34.5,36.8],[32.5,36.1],[30.5,36.5],[29.2,36.6],[27.3,37.2],[26.3,38.5],[26.5,39.8],[26.4,40.2],[29.2,41.2],[31.2,41.1],[35,42],[38.2,40.9],[41.5,41.5],[41.5,42.6],[38,44.5],[36.6,45.2],[33.5,44.6],[32.5,45.4],[33.6,46],[31.7,46.6],[30.8,46.5],[29.6,45.2],[28.6,44],[27.8,42.5],[28,41.6],[26.3,40.9],[23.8,40.3],[22.9,40.6],[22.6,40],[23.3,39.2],[22.9,37.5],[23.3,36.4],[21.7,36.8],[21.2,38.3],[19.4,41.8],[16,43.5],[13.6,45.1],[12.3,45.4],[12.4,44.4],[13.6,43.6],[14.8,42.2],[16.2,41.8],[18.5,40.2],[16.6,38.9],[15.7,37.9],[16.1,38.9],[15.6,40.1],[14.2,40.8],[12.6,41.5],[11.2,42.4],[10.5,43],[10.3,43.9],[8.9,44.4],[7.5,43.8],[6.5,43.1],[4,43.5],[3.1,43.1],[3.2,41.9],[0.8,41],[0,39.9],[-0.3,38.6],[-2.1,36.7],[-4.4,36.7],[-5.6,36],[-6.5,36.9],[-7.4,37.2],[-8.9,37]],
 [[-5.7,50.1],[1.4,51.2],[1.7,52.7],[0.3,53.4],[-1,54.5],[-1.6,55.6],[-2,57.6],[-3.7,58.6],[-5,58.6],[-6.2,56.7],[-4.9,55],[-3,54],[-3.1,53.3],[-4.6,53.3],[-4.2,52.2],[-5.2,51.7],[-3.4,51.4]],
 [[-10,51.8],[-6.2,52.2],[-5.7,54.5],[-7.2,55.3],[-8.5,54.6],[-10,53.9]],
 [[-17,21],[-16.5,24.5],[-14.2,27.9],[-10,29.8],[-9.6,32.5],[-6.8,34.1],[-5.9,35.8],[-5,35.2],[-2.2,35.1],[1.5,36.6],[3.2,36.8],[8.6,36.9],[11,37.1],[10.4,34.5],[11.1,33.3],[15.2,32.3],[18.9,30.5],[20,31.2],[20,32.4],[23,32.6],[25.2,31.6],[29,30.9],[31,31.6],[32.3,31.3],[32.6,29.9],[33.9,27.6],[35.2,24.7],[37.2,21],[37.4,18.4],[38.6,18],[39.3,15.9],[41.2,14.5],[43.3,12.4],[44.2,10.4],[47.7,11.2],[51.1,11.9],[51.1,10.3],[50.4,8.9],[49.4,6.8],[48,4.5],[46,2.2],[43.1,0.3],[41,-2],[40,-3.5],[39.2,-4.7],[38.8,-6.5],[39.4,-8.4],[40.4,-10.4],[40.6,-14.2],[39.3,-16.6],[36.5,-19],[34.8,-19.8],[35.4,-22.1],[35.5,-24],[32.9,-25.6],[32.6,-28.5],[31.5,-29.3],[30.1,-31.2],[28,-33],[25.7,-34],[22.6,-33.9],[20,-34.8],[18.4,-34],[17.9,-32],[16.3,-28.6],[15.2,-27.1],[14.4,-22.6],[13.3,-20.8],[11.8,-18],[11.7,-16.4],[12.2,-14.4],[13.6,-12],[13.1,-9.8],[12.2,-6],[12.3,-4.6],[11,-3.9],[9.4,-1.8],[8.8,-0.8],[9.8,2.3],[9.6,3.7],[8.5,4.5],[6.7,4.2],[5.6,5.8],[4.3,6.3],[1.9,6.1],[-1.1,5],[-2.8,5],[-4.6,5.2],[-7.5,4.3],[-9.9,5.6],[-11.4,6.8],[-13.1,8.2],[-13.7,9.5],[-15,10.8],[-16.6,12.2],[-17.2,14.4],[-16.5,16.1],[-16,18],[-16.2,19.9]],
 [[44,-25],[47.1,-24.9],[49.5,-17],[50.4,-15.7],[49.3,-12],[48,-13.5],[46.3,-15.8],[44.4,-16.2],[43.3,-22]],
 [[130,31],[132,34],[135,33.6],[137,34.6],[140,35],[140.8,36.9],[141,38.3],[142,40],[141.4,41.4],[140,40.6],[139.8,39],[138.8,37.8],[136.8,37.3],[136,35.7],[133,35.5],[131,34.4],[129.7,33.1]],
 [[140,41.5],[141.6,42.6],[143.2,41.9],[145.5,43.2],[145.3,44.3],[142,45.5],[141.6,45],[141.3,43.2],[140.4,43.3]],
 [[142,46],[143.5,49.3],[144,53],[143,54.3],[142.6,52.5],[142,49.5]],
 [[95.3,5.6],[97.5,5.2],[100.4,2.3],[104,-1],[104.5,-2.5],[106,-3.2],[105.8,-5.8],[104.6,-5.9],[102.5,-4.1],[101,-2],[98.6,1.7],[96.4,3.8]],
 [[105.9,-6.7],[108.6,-6.8],[110.6,-6.4],[112.6,-6.9],[114.5,-7.8],[114.5,-8.7],[110,-8.2],[106.4,-7.4]],
 [[109.6,2],[109,0],[110.3,-2.9],[111.7,-3],[114.5,-4],[116,-3.9],[116.5,-1.5],[117.6,0.8],[119,1.2],[117.8,4.2],[119.2,5.3],[117,7],[115.5,5.3],[113,3.1],[111.2,2.5]],
 [[119.5,-5.5],[120.4,-5.5],[120.9,-3.6],[122.9,-4.9],[121.4,-1.9],[123.3,-0.8],[120.9,-1.2],[120.7,0.5],[124.6,0.5],[125.2,1.4],[120.3,0.9],[119.6,-0.3],[118.8,-2.7]],
 [[131,-1],[134.2,-0.8],[137.9,-1.5],[141,-2.6],[145,-4.3],[147.6,-6.1],[147,-7.6],[150.4,-10.5],[148,-10.1],[144,-7.8],[142.6,-9.3],[140.1,-8.2],[138,-8.4],[138.6,-6.9],[135,-4.4],[132.9,-4],[132,-2.8]],
 [[120,18.5],[122.3,18.5],[121.5,15.8],[122,14],[124,12.5],[123.1,13.8],[120.6,14.3],[120,16]],
 [[122,12],[125.3,11],[126,9.6],[126.6,7.2],[125.4,5.6],[123.5,7.6],[122,7],[123.7,8.6],[124.6,9.1],[123.3,9.4],[122.5,10.7]],
 [[120.1,22.8],[121,21.9],[121.9,24.9],[121.5,25.3],[120.2,23.8]],
 [[110.2,18.3],[111,19.7],[110.6,20.1],[108.7,19.2]],
 [[79.9,6.2],[81.8,7.4],[81,9],[79.8,9.8]],
 [[114,-22],[114.6,-26.3],[114.9,-29.4],[115.7,-33.5],[115,-34.3],[118,-35],[121,-33.8],[124,-33],[126,-32.2],[129,-31.6],[131.2,-31.5],[134.3,-32.7],[135.9,-34.8],[137.5,-33],[138,-35.6],[139.5,-35.8],[140.6,-38],[143.5,-38.8],[146.3,-39],[148,-37.8],[150,-37.4],[150.9,-34.3],[152.6,-32.1],[153.6,-28.3],[153,-25],[151,-23.2],[149,-20.8],[146.3,-19],[145.3,-15],[143.5,-14],[142.5,-10.7],[141.6,-13],[141.5,-16.5],[139.3,-17.4],[136,-15.5],[136.9,-12.4],[135.6,-12],[132.6,-11.5],[130.5,-12.5],[129.5,-14.9],[127.8,-14.3],[125.7,-14.3],[123.6,-16.8],[122.2,-18.2],[119,-20],[116.7,-20.6]],
 [[144.7,-40.7],[148.3,-40.9],[148,-43.1],[146.8,-43.6],[145.2,-42.3]],
 [[172.7,-34.4],[174.5,-36.5],[175.9,-37.3],[178.4,-37.7],[177,-39.3],[176.3,-40.8],[174.9,-41.4],[174.9,-39.7],[174,-39],[174.7,-37.5]],
 [[172.6,-40.5],[174.3,-41.3],[173.3,-42.9],[171.2,-44.5],[170.6,-45.9],[169,-46.6],[166.5,-46],[168.3,-44.1],[171,-42.4]]
];
// inland water bodies (Hudson Bay, Caspian Sea)
const water=[
 [[-96,61.5],[-92.5,57],[-88,55.5],[-82.2,55],[-79.5,52],[-78.8,56],[-77,60],[-78,62.3],[-82,62.8],[-85,65],[-88,64],[-94,62.5]],
 [[52,41.5],[53,37],[51,36.7],[49.1,38],[49,40],[47.4,42],[47,44],[47,45.6],[49.4,46.5],[53,46.7],[53,45],[51,44.3],[51.5,43]]
];
const mapG=document.getElementById('map');
function polyPath(poly){return 'M'+poly.map(p=>px(p[0],p[1]).toFixed(1)+' '+py(p[0],p[1]).toFixed(1)).join('L')+'Z';}
land.forEach(poly=>{
  const e=mk('path',{d:polyPath(poly),fill:'#d9d8dc',stroke:'#e6e5e9','stroke-width':0.5},mapG);
  
  
});
water.forEach(poly=>{
  const e=mk('path',{d:polyPath(poly),fill:'#ffffff'},mapG);
  
  
});

// ---- city bubbles ----
const allCities=[].concat(citiesNorthAmerica,citiesCentralAmerica,citiesSouthAmerica,citiesEurope,citiesMiddleEast,citiesAfrica,citiesSouthAsia,citiesEastAsia,citiesOceania);
function cityColor(p){if(p>=10)return legendColors[6];if(p>=5)return legendColors[5];if(p>=1)return legendColors[4];if(p>=0.5)return legendColors[3];return legendColors[2];}
function cityRadius(p){return Math.max(2.6,3.3*Math.sqrt(p));}
const dotsG=document.getElementById('dots');
allCities.slice().sort((a,b)=>b[2]-a[2]).forEach(c=>{
  const e=mk('circle',{cx:px(c[0],c[1]).toFixed(1),cy:py(c[0],c[1]).toFixed(1),r:cityRadius(c[2]).toFixed(1),fill:cityColor(c[2]),'fill-opacity':c[2]>=5?0.55:0.65},dotsG);
  
  
});

// ---- slider ----
const sl=document.getElementById('slider');
const x0=40,x1=929;
function yx(y){return x0+(y-yearTicks[0])/(yearTicks[yearTicks.length-1]-yearTicks[0])*(x1-x0);}
const track=mk('rect',{x:x0,y:640,width:x1-x0,height:9,fill:'#fff',stroke:'#9a9a9a','stroke-width':1},sl);


yearTicks.forEach(y=>{
  const t=mk('line',{x1:yx(y),x2:yx(y),y1:649,y2:656,stroke:'#999','stroke-width':1},sl);
  
  
  const l=mk('text',{x:yx(y),y:670,'text-anchor':'middle','font-size':14,fill:'#111'},sl);
  l.textContent=y;
  
  
});
const thumb=mk('rect',{x:yx(currentYear)-9.5,y:623,width:19,height:28,rx:3,fill:'#e4e4e4',stroke:'#111','stroke-width':2},sl);


</script>
</body></html>
